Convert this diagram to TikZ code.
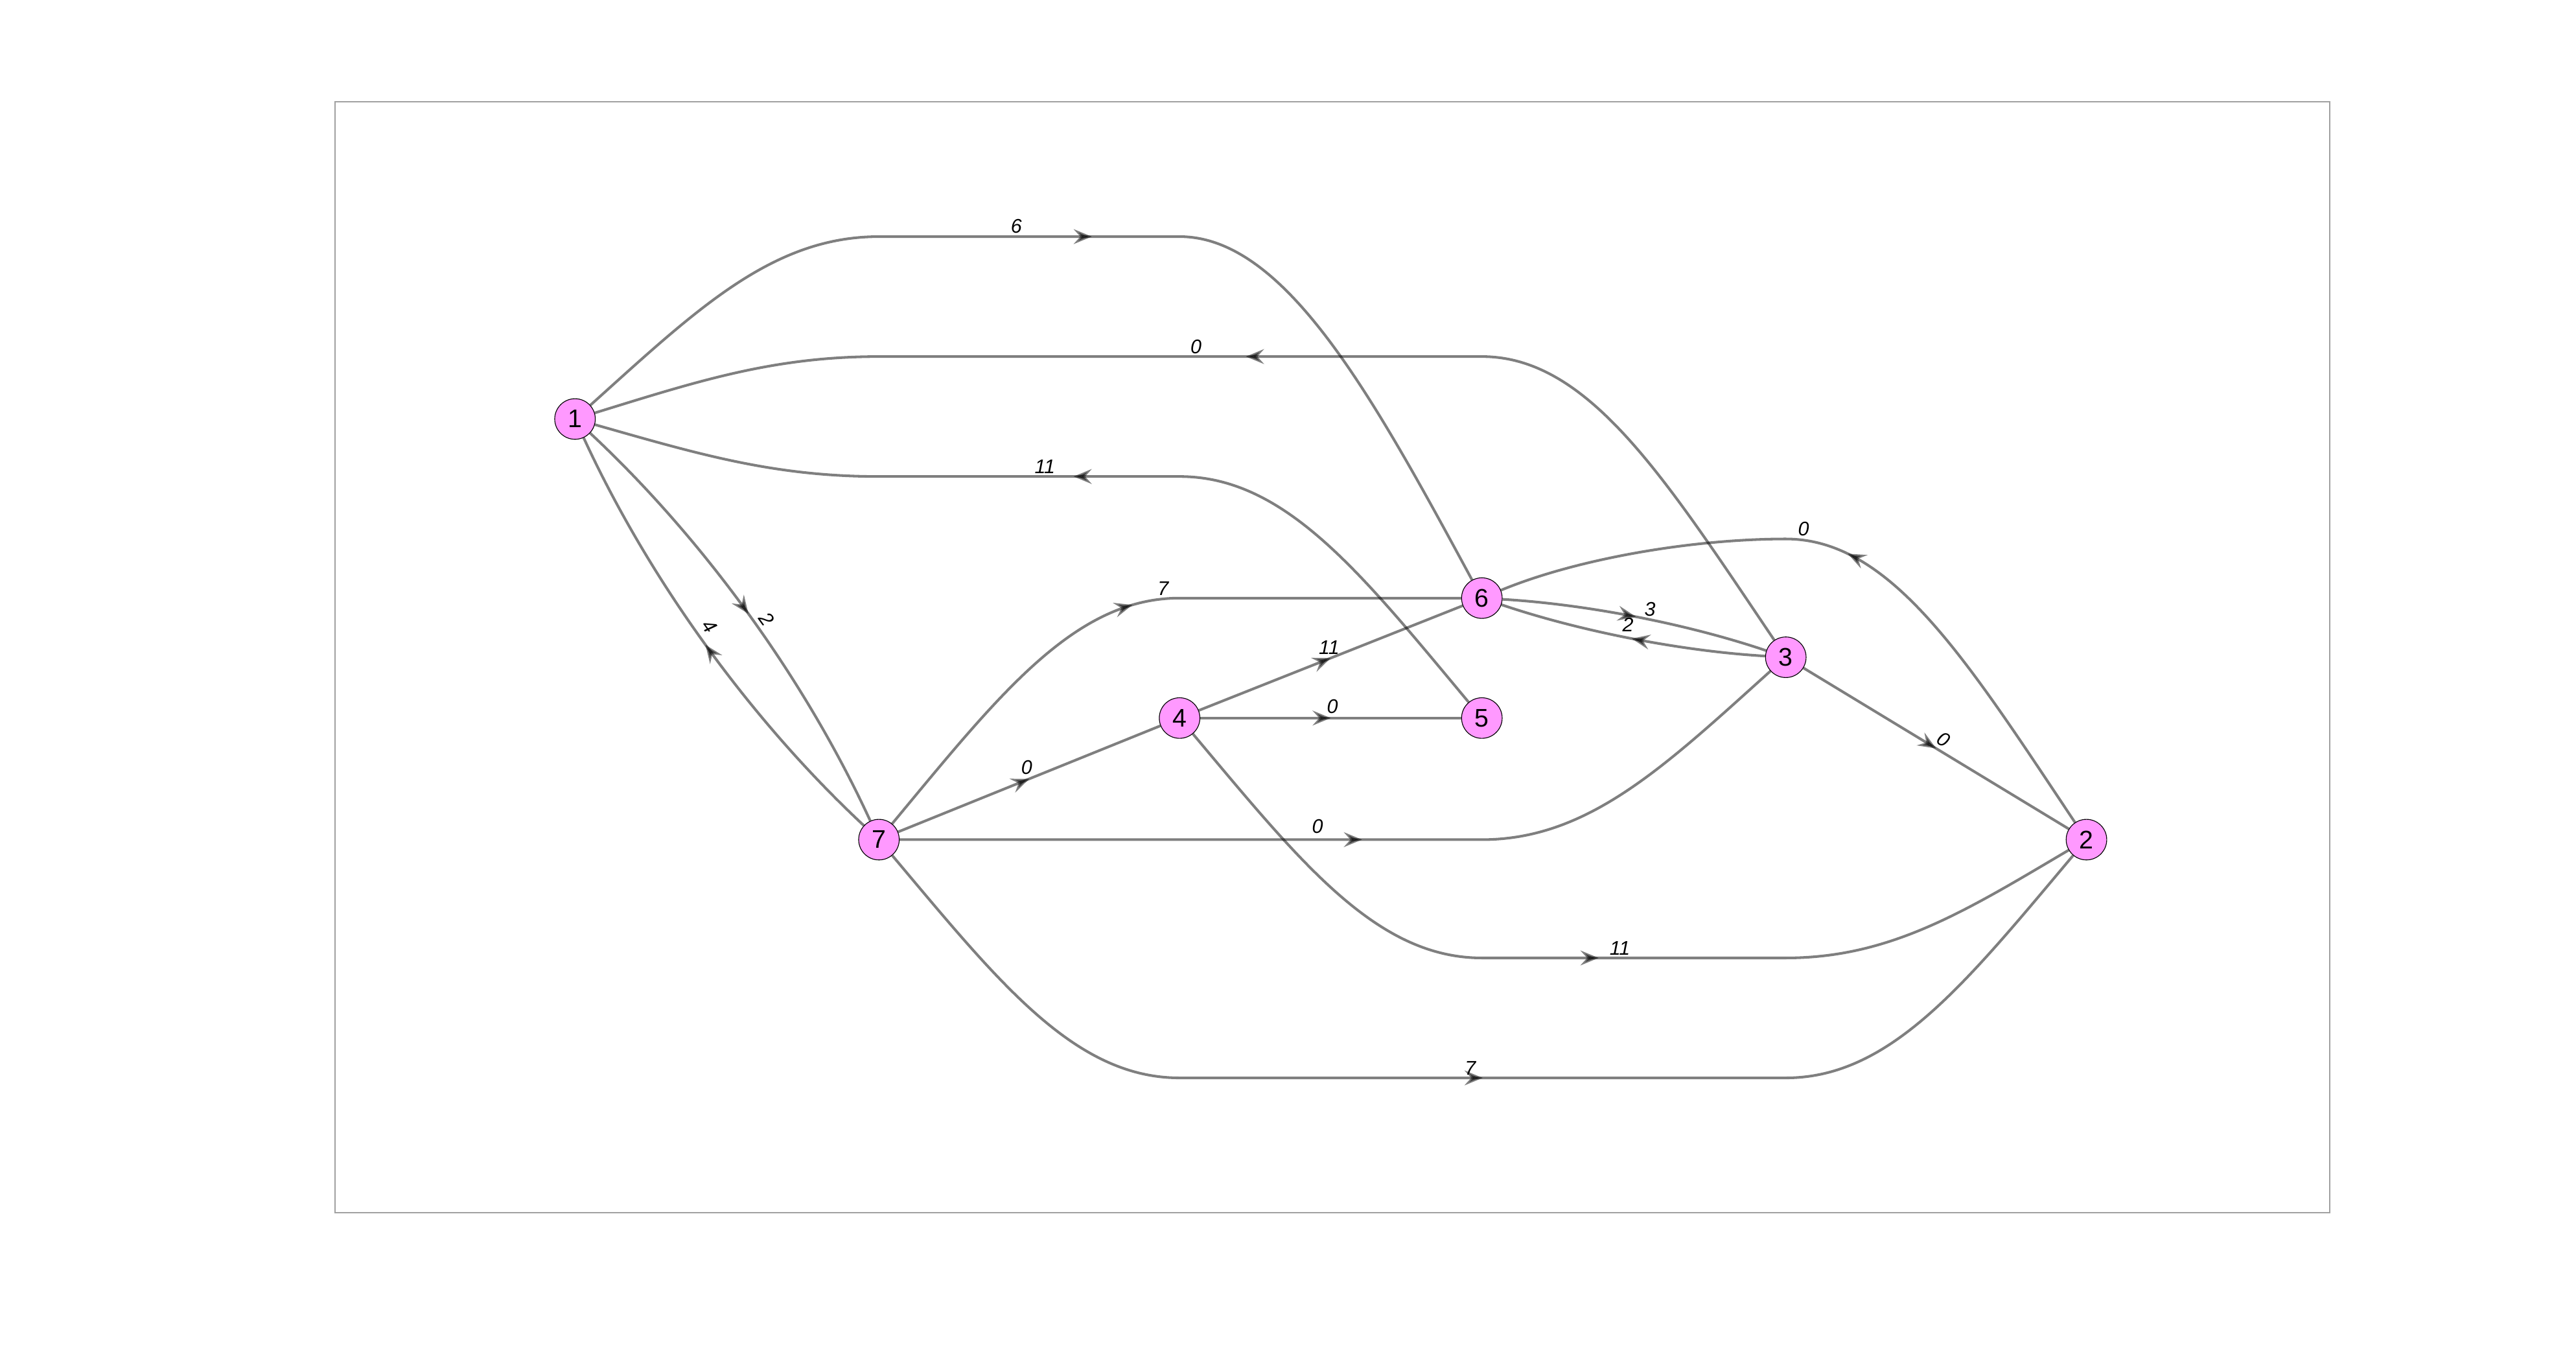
\documentclass[tikz,border=0pt]{standalone}
\usepackage{fontspec}
\setmainfont{Liberation Sans}
\usetikzlibrary{arrows.meta,decorations.markings}
\definecolor{vfill}{RGB}{255,153,255}
\definecolor{framecol}{RGB}{160,160,160}
\begin{document}
\begin{tikzpicture}[x=1pt,y=-1pt,
  vtx/.style={circle, draw=black, line width=0.45pt, fill=vfill,
    minimum size=24.7pt, inner sep=0pt, font=\fontsize{15.5}{18}\selectfont},
  lbl/.style={font=\fontsize{12}{14}\selectfont\itshape, inner sep=0pt},
  link/.style={draw=black, draw opacity=0.5, line width=1.6pt,
    postaction={decorate},
    decoration={markings, mark=at position 0.5 with
      {\arrow[opacity=0.5]{Stealth[length=11pt,width=9pt,inset=4pt]}}}}]
\useasboundingbox (0,0) rectangle (1568,830.35);
\fill[white] (0,0) rectangle (1568,830.35);
\draw[framecol, line width=0.6pt] (204,62) rectangle (1418,738);

% vertices
\node[vtx] (n1) at (350,255) {1};
\node[vtx] (n2) at (1270,511) {2};
\node[vtx] (n3) at (1087,400) {3};
\node[vtx] (n4) at (718,437) {4};
\node[vtx] (n5) at (902,437) {5};
\node[vtx] (n6) at (902,364) {6};
\node[vtx] (n7) at (535,511) {7};

% bend points of long edges
\coordinate (a1) at (535,144); \coordinate (a2) at (718,144);
\coordinate (b1) at (535,217); \coordinate (b3) at (902,217);
\coordinate (c1) at (535,290); \coordinate (c2) at (718,290);
\coordinate (f1) at (718,364);
\coordinate (j1) at (902,511);
\coordinate (k1) at (902,583); \coordinate (k2) at (1087,583);
\coordinate (l1) at (718,656); \coordinate (l3) at (1087,656);
\coordinate (p1) at (1087,328);

% edges
\draw[link] (n1) .. controls (424,188.4) and (470,144) .. (a1) -- (a2)
  .. controls (782,144) and (835,240) .. (n6);
\draw[link] (n3) .. controls (1013,290.2) and (966.75,217) .. (b3) -- (b1)
  .. controls (470.25,217) and (424,232.2) .. (n1);
\draw[link] (n5) .. controls (828.4,348.8) and (782.4,290) .. (c2) -- (c1)
  .. controls (470.25,290) and (424,276) .. (n1);
\draw[link] (n1) .. controls (428.4,328.2) and (490.1,413.5) .. (n7);
\draw[link] (n7) .. controls (456.6,437.8) and (394.9,352.5) .. (n1);
\draw[link] (n7) .. controls (608.2,422.8) and (654,364) .. (f1) -- (n6);
\draw[link] (n7) -- (n4);
\draw[link] (n4) -- (n6);
\draw[link] (n4) -- (n5);
\draw[link] (n7) -- (j1) .. controls (966.75,511) and (1013,466.6) .. (n3);
\draw[link] (n4) .. controls (791.6,524.6) and (837.6,583) .. (k1) -- (k2)
  .. controls (1151,583) and (1196.8,554.2) .. (n2);
\draw[link] (n7) .. controls (608.2,598) and (654,656) .. (l1) -- (l3)
  .. controls (1151,656) and (1196.8,598) .. (n2);
\draw[link] (n6) .. controls (965.3,367.7) and (1027,379.7) .. (n3);
\draw[link] (n3) .. controls (1023.7,396.3) and (962.05,384.3) .. (n6);
\draw[link] (n3) -- (n2);
\draw[link] (n2) .. controls (1196.8,401.2) and (1151,328) .. (p1)
  .. controls (1030,328) and (960,340) .. (n6);

% edge weights
\node[lbl] (t16) at (618.6,137.7) {6};
\node[lbl] (t31) at (728,211) {0};
\node[lbl] (t51) at (636,284) {11};
\node[lbl, rotate=-54] (t17) at (466.7,376.7) {2};
\node[lbl, rotate=-54] (t71) at (432,381) {4};
\node[lbl] (t76) at (708,358) {7};
\node[lbl] (t74) at (625,467) {0};
\node[lbl] (t46) at (809,394) {11};
\node[lbl] (t45) at (811,430) {0};
\node[lbl] (t73) at (802,503) {0};
\node[lbl] (t42) at (986,577) {11};
\node[lbl] (t72) at (895,650) {7};
\node[lbl] (t63) at (1004.3,370.8) {3};
\node[lbl] (t36) at (990.9,380.3) {2};
\node[lbl, rotate=-31] (t32) at (1183,450) {0};
\node[lbl] (t26) at (1097.8,321.9) {0};
\end{tikzpicture}
\end{document}
